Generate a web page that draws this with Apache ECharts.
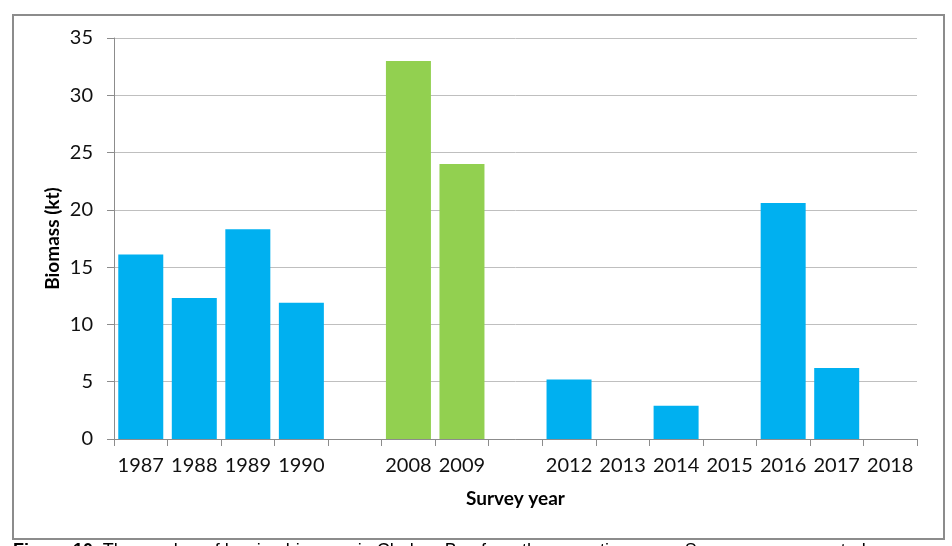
<!DOCTYPE html>
<html>
<head>
<meta charset="utf-8">
<script src="https://cdn.jsdelivr.net/npm/echarts@6/dist/echarts.min.js"></script>
<style>
  html, body { margin: 0; padding: 0; background: #fff; overflow: hidden; }
  #frame { position: absolute; left: 12px; top: 14px; width: 929px; height: 522px; border: 2px solid #8c8c8c; }
  #chart { position: absolute; left: 0; top: 0; width: 952px; height: 546px; }
  #caption { position: absolute; left: 13px; top: 540px; font-family: "Liberation Sans", Arial, sans-serif; font-size: 18px; white-space: nowrap; color: #000; }
</style>
</head>
<body>
<div id="frame"></div>
<div id="chart"></div>
<div id="caption"><b>Figure 10.</b> The number of herring biomass in Chaleur Bay from the acoustic survey. Surveys are presented</div>
<script>
// survey years (blank slots are gaps in the series)
const years = ['1987', '1988', '1989', '1990', '', '2008', '2009', '', '2012', '2013', '2014', '2015', '2016', '2017', '2018'];
// biomass (kt), blue surveys
const biomassBlue = [16.1, 12.3, 18.3, 11.9, null, null, null, null, 5.2, null, 2.9, null, 20.6, 6.2, null];
// biomass (kt), green surveys
const biomassGreen = [null, null, null, null, null, 33.0, 24.0, null, null, null, null, null, null, null, null];
const yTicks = { min: 0, max: 35, step: 5 };

const font = 'Lato, "Open Sans", sans-serif';
const chart = echarts.init(document.getElementById('chart'));
chart.setOption({
  animation: false,
  grid: { left: 114, right: 35, top: 38, bottom: 107 },
  xAxis: {
    type: 'category',
    data: years,
    name: 'Survey year',
    nameLocation: 'middle',
    nameGap: 50,
    nameTextStyle: { fontFamily: font, fontSize: 19, fontWeight: 'bold', color: '#000' },
    axisLine: { lineStyle: { color: '#8c8c8c', width: 1 } },
    axisTick: { show: true, alignWithLabel: false, length: 7, lineStyle: { color: '#8c8c8c' } },
    axisLabel: { fontFamily: font, fontSize: 20, color: '#111', margin: 17, interval: 0 }
  },
  yAxis: {
    type: 'value',
    min: yTicks.min,
    max: yTicks.max,
    interval: yTicks.step,
    name: 'Biomass (kt)',
    nameLocation: 'middle',
    nameGap: 52,
    nameMoveOverlap: false,
    nameTextStyle: { fontFamily: font, fontSize: 19, fontWeight: 'bold', color: '#000' },
    axisLine: { show: true, lineStyle: { color: '#8c8c8c', width: 1 } },
    axisTick: { show: true, length: 7, lineStyle: { color: '#8c8c8c' } },
    axisLabel: { fontFamily: font, fontSize: 20, color: '#111', margin: 21 },
    splitLine: { lineStyle: { color: '#bfbfbf', width: 1 } }
  },
  series: [
    {
      type: 'bar', stack: 'b', data: biomassBlue, barWidth: 45,
      itemStyle: { color: '#00b0f0' }
    },
    {
      type: 'bar', stack: 'b', data: biomassGreen, barWidth: 45,
      itemStyle: { color: '#92d050' }
    }
  ]
});
</script>
</body>
</html>
